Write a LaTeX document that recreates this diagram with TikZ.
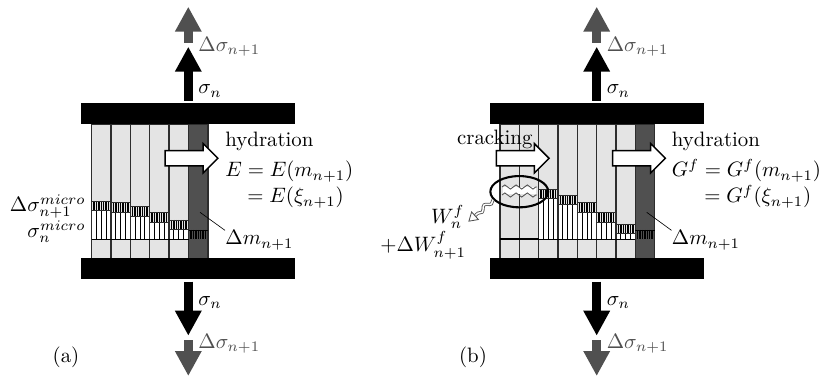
\documentclass[tikz,border=0pt]{standalone}
\usepackage{amsmath}
\usetikzlibrary{arrows.meta, shapes.geometric, shapes.arrows,
                decorations.pathmorphing}
\definecolor{agedg}{RGB}{228,228,228}
\definecolor{newg}{RGB}{80,80,80}
\definecolor{colline}{RGB}{45,45,45}

\begin{document}
\begin{tikzpicture}[x=0.48pt, y=-0.48pt,
    plate/.style={fill=black, inner sep=0pt, minimum width=102.7pt, minimum height=9.9pt},
    force/.style={line width=4.3pt, -{Triangle[length=12pt, width=12pt]}},
    growth/.style={draw=black, fill=white, line width=0.7pt, single arrow, inner xsep=0pt,
      inner ysep=3.3pt, single arrow head extend=3.4pt, single arrow tip angle=90,
      minimum width=13.9pt, minimum height=25.3pt},
    lbl/.style={inner sep=0pt, anchor=base west},
    lblr/.style={inner sep=0pt, anchor=base east},
    gryl/.style={lbl, text=newg},
    cell/.style={fill=agedg, draw=colline, line width=0.7pt},
    hatchline/.style={black, line width=0.4pt}]
  \useasboundingbox (0,0) rectangle (819,378);

  % aged columns of both panels: left edge / top of increment
  \foreach \cx/\ytop in {91.7/201, 111/202.7, 130.3/206.7, 149.7/212.3, 169/220,
                         538.7/189, 558/195, 577.3/202.7, 596.7/212.3, 616/224}{
    \draw[cell] (\cx,124) rectangle ++(19.3,134.3);
    \fill[white] (\cx,\ytop+9.7) rectangle (\cx+19.3,239.3);
    \foreach \k in {1,2,3}
      \draw[hatchline] (\cx+\k*4.83,\ytop+9.7) -- (\cx+\k*4.83,239.3);
    \foreach \k in {1,...,7}
      \draw[hatchline, line width=0.7pt] (\cx+\k*2.41,\ytop) -- (\cx+\k*2.41,\ytop+9.7);
    \draw[colline, line width=0.4pt] (\cx,\ytop) rectangle ++(19.3,9.7);
    \draw[colline, line width=0.7pt] (\cx,124) -- (\cx,258.3) (\cx+19.3,124) -- (\cx+19.3,258.3);
  }
  % cracked columns
  \foreach \cx in {500,519.3}{
    \draw[cell] (\cx,124) rectangle ++(19.3,134.3);
    \draw[black, line width=1pt] (\cx,238.8) -- ++(19.3,0);
  }
  % newest column + baseline
  \foreach \cx/\xa/\xb in {188.7/91.7/188.7, 635.3/538.7/635.3}{
    \draw[fill=newg, draw=colline, line width=0.7pt] (\cx,124) rectangle ++(19.2,134.3);
    \foreach \k in {1,...,7}
      \draw[hatchline, line width=0.7pt] (\cx+\k*2.41,230) -- (\cx+\k*2.41,239.3);
    \draw[black, line width=0.5pt] (\xa,239.3) -- (\xb,239.3);
    \draw[black, line width=0.4pt] (\cx,230) -- ++(19.2,0);
  }

  % crack
  \fill[white] (503,187.5) rectangle (536,194.5);
  \draw[newg, line width=0.4pt, decorate, decoration={zigzag, amplitude=1pt, segment length=5.4pt}]
    (502,187) -- (537,187);
  \draw[newg, line width=0.4pt, decorate, decoration={zigzag, amplitude=1pt, segment length=5.4pt}]
    (502,195) -- (537,195);
  \node[ellipse, draw=black, line width=1pt, inner sep=0pt, minimum width=27.8pt,
    minimum height=15pt] (crackzone) at (519.3,191.7) {};
  \coordinate (crackend) at (468.3,221.7);
  \draw[newg, double=white, double distance=0.7pt, line width=0.4pt,
    -{Triangle[open, length=4.5pt, width=5.5pt, fill=white]},
    decorate, decoration={snake, amplitude=1pt, segment length=6pt, post length=3.5pt}]
    (crackzone.197) -- (crackend);

  % plates and loading
  \foreach \p/\cx in {a/188.3,b/596.7}{
    \node[plate] (topplate\p) at (\cx,113.7) {};
    \node[plate] (botplate\p) at (\cx,268.7) {};
    \coordinate (sa\p) at (\cx,100.7);
    \coordinate (sb\p) at (\cx,46.7);
    \coordinate (sc\p) at (\cx,42.7);
    \coordinate (sd\p) at (\cx,6.7);
    \coordinate (se\p) at (\cx,281.7);
    \coordinate (sf\p) at (\cx,335.7);
    \coordinate (sg\p) at (\cx,340);
    \coordinate (sh\p) at (\cx,376);
    \draw[force] (sa\p) -- (sb\p);
    \draw[force, newg] (sc\p) -- (sd\p);
    \draw[force] (se\p) -- (sf\p);
    \draw[force, newg] (sg\p) -- (sh\p);
    \node[lbl] (sigt\p) at (\cx+9.7,94) {$\sigma_n$};
    \node[gryl] (dsigt\p) at (\cx+9.7,51.7) {$\Delta\sigma_{n+1}$};
    \node[lbl] (sigb\p) at (\cx+9.7,305) {$\sigma_n$};
    \node[gryl] (dsigb\p) at (\cx+9.7,348) {$\Delta\sigma_{n+1}$};
  }

  % block arrows
  \node[growth] (hyda) at (187.7,158.3) {};
  \node[growth] (hydb) at (635.2,158.3) {};
  \node[growth] (crkb) at (518.9,158.3) {};

  % labels (a)
  \node[lbl] (hydtxta) at (225,146.7) {hydration};
  \node[lbl] (eqa) at (225,177) {$E=E(m_{n+1})$};
  \node[lbl] (eqb) at (247,203) {$=E(\xi_{n+1})$};
  \node[lbl] (dma) at (225,245) {$\Delta m_{n+1}$};
  \node[lblr] (dsm) at (86,211.7) {$\Delta\sigma_{n+1}^{micro}$};
  \node[lblr] (sm) at (86,237.7) {$\sigma_n^{micro}$};
  \node[lbl, anchor=base] (capa) at (66,362) {(a)};
  \coordinate (leada) at (200,212.3);
  \draw[line width=0.3pt] (leada) -- (dma.north west);

  % labels (b)
  \node[lbl] (crktxt) at (456.7,145) {cracking};
  \node[lbl] (hydtxtb) at (671.5,146.7) {hydration};
  \node[lbl] (eqc) at (671.5,177) {$G^f=G^f(m_{n+1})$};
  \node[lbl] (eqd) at (704,203) {$=G^f(\xi_{n+1})$};
  \node[lbl] (dmb) at (671.5,245) {$\Delta m_{n+1}$};
  \node[lbl] (wn) at (430.7,223) {$W_n^f$};
  \node[lbl] (dwn) at (380,251.7) {$+\Delta W_{n+1}^f$};
  \node[lbl, anchor=base] (capb) at (473,362) {(b)};
  \coordinate (leadb) at (646.7,212.3);
  \draw[line width=0.3pt] (leadb) -- (dmb.north west);
\end{tikzpicture}
\end{document}
